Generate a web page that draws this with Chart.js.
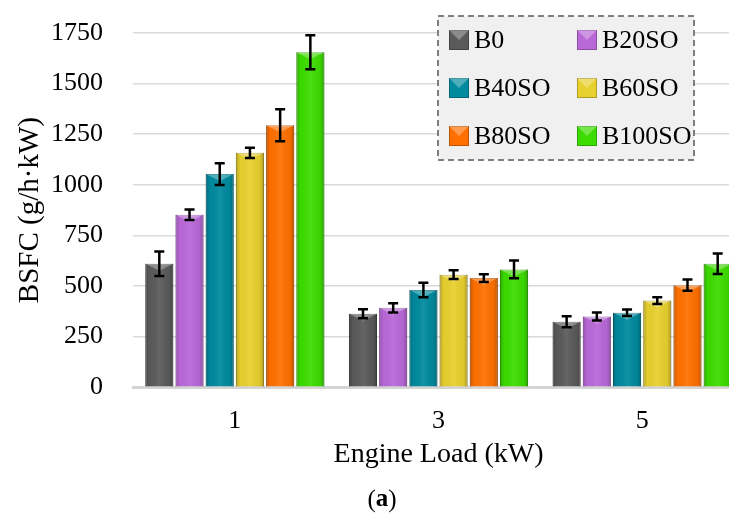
<!DOCTYPE html>
<html>
<head>
<meta charset="utf-8">
<script src="https://cdn.jsdelivr.net/npm/chart.js@4"></script>
<style>
  html, body { margin: 0; padding: 0; background: #fff; overflow: hidden; }
  #wrap { position: absolute; left: 0; top: 0; width: 746px; height: 517px; }
</style>
</head>
<body>
<div id="wrap"><canvas id="bsfcChart" width="746" height="517"></canvas></div>
<script>
// Engine loads (kW)
const loads = ['1', '3', '5'];
const blendNames = ['B0', 'B20SO', 'B40SO', 'B60SO', 'B80SO', 'B100SO'];
const blendColors = ['#5a5a5a', '#b968d8', '#008a9e', '#e8d02e', '#ff7000', '#3cdc00'];

// BSFC (g/h·kW) per blend, one value per load
const b0 = [610, 363, 323];
const b20so = [852, 392, 349];
const b40so = [1053, 480, 368];
const b60so = [1158, 556, 428];
const b80so = [1294, 539, 504];
const b100so = [1655, 582, 610];

// error bar half-heights
const errB0 = [60, 22, 27];
const errB20so = [26, 23, 20];
const errB40so = [54, 36, 16];
const errB60so = [25, 22, 17];
const errB80so = [79, 19, 28];
const errB100so = [84, 44, 51];

const yTicks = [0, 250, 500, 750, 1000, 1250, 1500, 1750];

const allValues = [b0, b20so, b40so, b60so, b80so, b100so];
const allErrors = [errB0, errB20so, errB40so, errB60so, errB80so, errB100so];

const serif = "'Liberation Serif', 'DejaVu Serif', serif";

function shade(hex, amt) {
    const n = parseInt(hex.slice(1), 16);
    let r = (n >> 16) & 255, g = (n >> 8) & 255, b = n & 255;
    r = Math.max(0, Math.min(255, Math.round(r * amt)));
    g = Math.max(0, Math.min(255, Math.round(g * amt)));
    b = Math.max(0, Math.min(255, Math.round(b * amt)));
    return 'rgb(' + r + ',' + g + ',' + b + ')';
}

// bevel look + error bars
const barExtras = {
    id: 'barExtras',
    afterDatasetsDraw(chart) {
        const ctx = chart.ctx;
        const y = chart.scales.y;
        ctx.save();
        chart.data.datasets.forEach((ds, i) => {
            const meta = chart.getDatasetMeta(i);
            meta.data.forEach((bar, j) => {
                const left = bar.x - bar.width / 2;
                const w = bar.width;
                const top = bar.y;
                const h = bar.base - bar.y;
                const grad = ctx.createLinearGradient(left, 0, left + w, 0);
                grad.addColorStop(0, 'rgba(0,0,0,0.22)');
                grad.addColorStop(0.15, 'rgba(0,0,0,0.02)');
                grad.addColorStop(0.5, 'rgba(255,255,255,0.07)');
                grad.addColorStop(0.85, 'rgba(0,0,0,0.04)');
                grad.addColorStop(1, 'rgba(0,0,0,0.25)');
                ctx.fillStyle = grad;
                ctx.fillRect(left, top, w, h);
                // top bevel highlight
                ctx.fillStyle = 'rgba(255,255,255,0.3)';
                ctx.beginPath();
                ctx.moveTo(left, top);
                ctx.lineTo(left + w, top);
                ctx.lineTo(left + w / 2, top + 7);
                ctx.closePath();
                ctx.fill();
            });
        });
        // error bars
        ctx.strokeStyle = '#000';
        ctx.lineWidth = 2.5;
        chart.data.datasets.forEach((ds, i) => {
            const meta = chart.getDatasetMeta(i);
            meta.data.forEach((bar, j) => {
                const v = ds.data[j];
                const e = allErrors[i][j];
                const yHi = y.getPixelForValue(v + e);
                const yLo = y.getPixelForValue(v - e);
                ctx.beginPath();
                ctx.moveTo(bar.x, yHi);
                ctx.lineTo(bar.x, yLo);
                ctx.moveTo(bar.x - 5, yHi);
                ctx.lineTo(bar.x + 5, yHi);
                ctx.moveTo(bar.x - 5, yLo);
                ctx.lineTo(bar.x + 5, yLo);
                ctx.stroke();
            });
        });
        ctx.restore();
    },
    afterDraw(chart) {
        const ctx = chart.ctx;
        ctx.save();
        // legend box
        ctx.fillStyle = '#f0f0f0';
        ctx.fillRect(438, 16, 256, 144);
        ctx.setLineDash([6, 4]);
        ctx.strokeStyle = '#7f7f7f';
        ctx.lineWidth = 2;
        ctx.strokeRect(438, 16, 256, 144);
        ctx.setLineDash([]);
        const colX = [449, 577];
        const rowY = [40, 88, 136];
        ctx.font = '26px ' + serif;
        ctx.textBaseline = 'middle';
        chart.data.datasets.forEach((ds, i) => {
            const cx = colX[i % 2];
            const cy = rowY[Math.floor(i / 2)];
            ctx.fillStyle = ds.backgroundColor;
            ctx.fillRect(cx, cy - 10, 20, 20);
            ctx.strokeStyle = shade(ds.backgroundColor, 0.75);
            ctx.lineWidth = 1;
            ctx.strokeRect(cx + 0.5, cy - 9.5, 19, 19);
            ctx.fillStyle = 'rgba(255,255,255,0.3)';
            ctx.beginPath();
            ctx.moveTo(cx, cy - 10);
            ctx.lineTo(cx + 20, cy - 10);
            ctx.lineTo(cx + 10, cy);
            ctx.closePath();
            ctx.fill();
            ctx.fillStyle = '#000';
            ctx.textAlign = 'left';
            ctx.fillText(ds.label, cx + 25, cy + 1);
        });
        // panel label
        ctx.font = '25px ' + serif;
        const wOpen = ctx.measureText('(').width;
        ctx.font = 'bold 25px ' + serif;
        const wA = ctx.measureText('a').width;
        const total = wOpen * 2 + wA;
        let x0 = 382 - total / 2;
        ctx.textAlign = 'left';
        ctx.font = '25px ' + serif;
        ctx.fillText('(', x0, 500);
        ctx.font = 'bold 25px ' + serif;
        ctx.fillText('a', x0 + wOpen, 500);
        ctx.font = '25px ' + serif;
        ctx.fillText(')', x0 + wOpen + wA, 500);
        ctx.restore();
    }
};

document.addEventListener('DOMContentLoaded', function () {
    const ctx = document.getElementById('bsfcChart');

    new Chart(ctx, {
        type: 'bar',
        data: {
            labels: loads,
            datasets: blendNames.map((name, i) => ({
                label: name,
                data: allValues[i],
                backgroundColor: blendColors[i],
                borderColor: shade(blendColors[i], 0.8),
                borderWidth: 1,
                barPercentage: 0.93,
                categoryPercentage: 0.89
            }))
        },
        options: {
            responsive: false,
            animation: false,
            layout: {
                padding: { left: 13, right: 2, top: 33, bottom: 46 }
            },
            plugins: {
                legend: { display: false },
                tooltip: { enabled: false }
            },
            scales: {
                x: {
                    grid: { display: false },
                    border: { display: true, color: '#d4d4d4', width: 3 },
                    ticks: {
                        color: '#000',
                        padding: 10,
                        font: { family: serif, size: 26 }
                    },
                    title: {
                        display: true,
                        text: 'Engine Load (kW)',
                        color: '#000',
                        padding: { top: -9, bottom: 0 },
                        font: { family: serif, size: 28 }
                    }
                },
                y: {
                    min: 0,
                    max: 1750,
                    afterBuildTicks: function (scale) {
                        scale.ticks = yTicks.map(v => ({ value: v }));
                    },
                    afterFit: function (scale) {
                        scale.width = 120;
                        scale.paddingTop = 0;
                        scale.paddingBottom = 0;
                    },
                    grid: {
                        color: '#d9d9d9',
                        lineWidth: 1.5,
                        drawTicks: false
                    },
                    border: { display: false },
                    ticks: {
                        color: '#000',
                        padding: 30,
                        font: { family: serif, size: 26 },
                        callback: function (v) { return String(v); }
                    },
                    title: {
                        display: true,
                        text: 'BSFC (g/h·kW)',
                        color: '#000',
                        padding: { top: 0, bottom: 0 },
                        font: { family: serif, size: 29 }
                    }
                }
            }
        },
        plugins: [barExtras]
    });
});
</script>
</body>
</html>
